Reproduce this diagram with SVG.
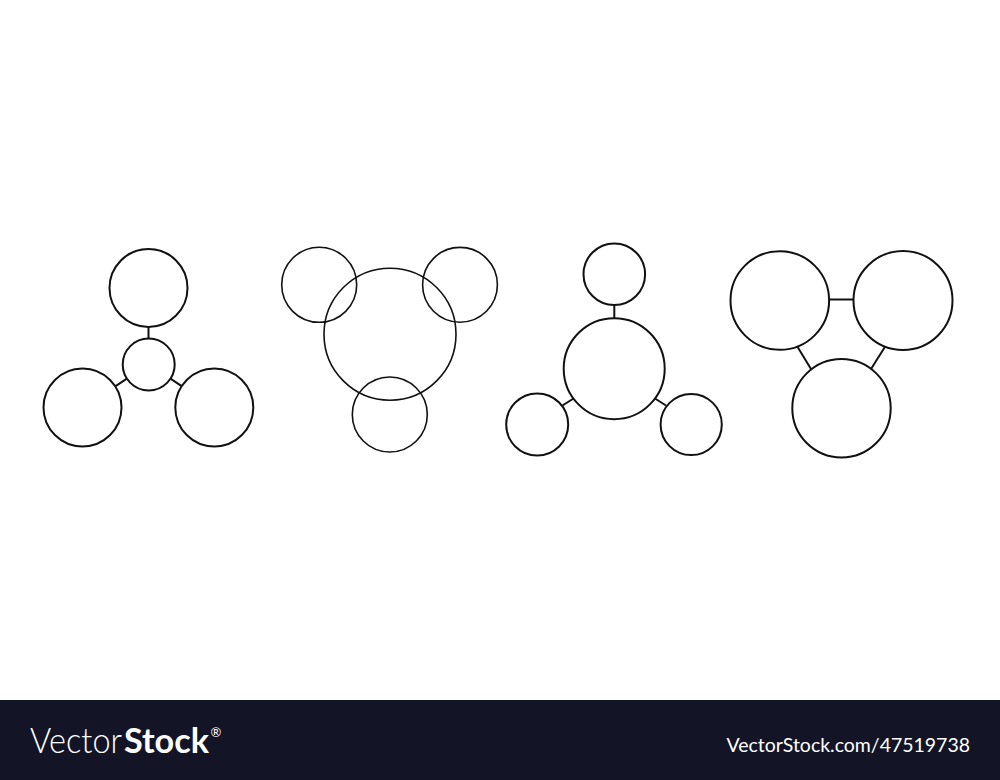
<svg xmlns="http://www.w3.org/2000/svg" width="1000" height="780" viewBox="0 0 1000 780">
<style>
.n{fill:none;stroke:#111;stroke-width:2}
.thin{fill:none;stroke:#111;stroke-width:1.6}
.c{stroke:#111;stroke-width:2;fill:none}
.logo{font-family:Lato,"Open Sans","Liberation Sans",sans-serif;fill:#fff}
</style>
<rect width="1000" height="780" fill="#fff"/>
<g id="connectors">
<line class="c" x1="148.5" y1="327" x2="148.5" y2="338.5"/>
<line class="c" x1="126.9" y1="378.6" x2="115.2" y2="386.3"/>
<line class="c" x1="170.4" y1="378.6" x2="182.1" y2="386.3"/>
<line class="c" x1="614.3" y1="305" x2="614.3" y2="318.4"/>
<line class="c" x1="573.5" y1="398.5" x2="562.5" y2="405.5"/>
<line class="c" x1="655" y1="398.5" x2="666" y2="405.5"/>
<line class="c" x1="829" y1="299.5" x2="853.3" y2="299.5"/>
<line class="c" x1="797" y1="346" x2="811" y2="369"/>
<line class="c" x1="885.5" y1="346" x2="871" y2="369"/>
</g>
<g id="d1">
<g id="d1-top"><circle class="n" cx="148.5" cy="288" r="39"/></g>
<g id="d1-hub"><circle class="n" cx="148.7" cy="364.5" r="26"/></g>
<g id="d1-left"><circle class="n" cx="82.5" cy="407.5" r="39"/></g>
<g id="d1-right"><circle class="n" cx="214.3" cy="407.5" r="39"/></g>
</g>
<g id="d2">
<g id="d2-tl"><circle class="thin" cx="319.2" cy="284.8" r="37.5"/></g>
<g id="d2-tr"><circle class="thin" cx="460" cy="284.8" r="37.4"/></g>
<g id="d2-hub"><circle class="thin" cx="390" cy="334.2" r="66"/></g>
<g id="d2-bottom"><circle class="thin" cx="389.8" cy="414.5" r="37.5"/></g>
</g>
<g id="d3">
<g id="d3-top"><circle class="n" cx="614.3" cy="274.2" r="30.8"/></g>
<g id="d3-hub"><circle class="n" cx="614.2" cy="368.7" r="50.5"/></g>
<g id="d3-left"><circle class="n" cx="537.2" cy="424.5" r="31"/></g>
<g id="d3-right"><circle class="n" cx="691.2" cy="424.5" r="30.6"/></g>
</g>
<g id="d4">
<g id="d4-tl"><circle class="n" cx="779.8" cy="300.5" r="49.3"/></g>
<g id="d4-tr"><circle class="n" cx="903" cy="300.5" r="49.5"/></g>
<g id="d4-bottom"><circle class="n" cx="841.5" cy="408.2" r="49.2"/></g>
</g>
<g id="footer">
<rect x="0" y="700" width="1000" height="80" fill="#131526"/>
<text class="logo" x="30" y="753" font-size="35" font-weight="300" textLength="92" lengthAdjust="spacingAndGlyphs">Vector</text>
<text class="logo" x="124" y="753" font-size="35" font-weight="700" textLength="85" lengthAdjust="spacingAndGlyphs">Stock</text>
<text class="logo" x="210.5" y="737" font-size="13">®</text>
<text class="logo" x="726.5" y="752.3" font-size="18.5" textLength="243.5" lengthAdjust="spacingAndGlyphs">VectorStock.com/47519738</text>
</g>
</svg>
